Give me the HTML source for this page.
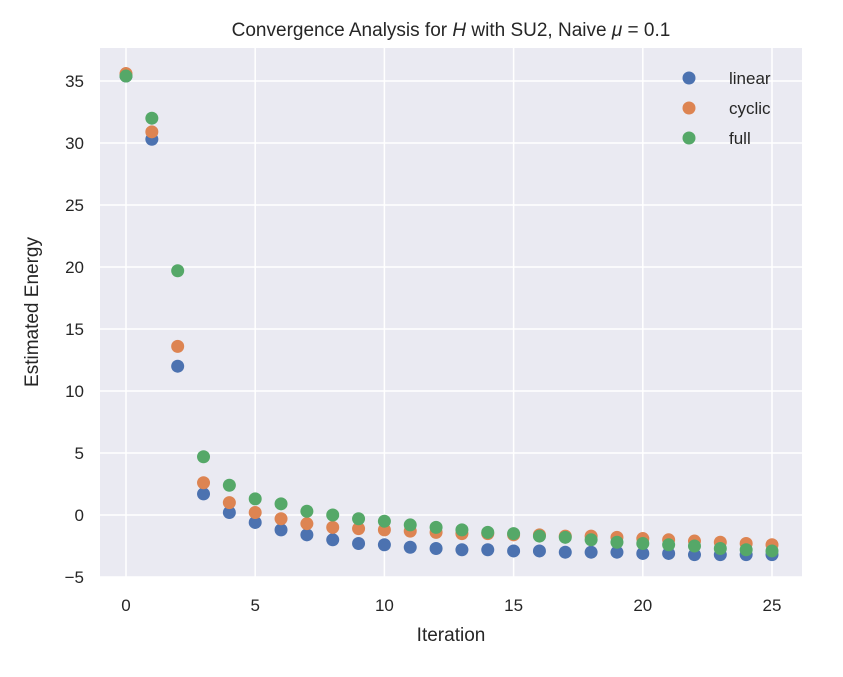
<!DOCTYPE html>
<html><head><meta charset="utf-8"><style>
body{margin:0;background:#fff;font-family:"Liberation Sans","DejaVu Sans",sans-serif}
</style></head><body>
<svg id="chart" width="843" height="672" xmlns="http://www.w3.org/2000/svg" font-family="Liberation Sans, DejaVu Sans, sans-serif">
<rect x="100" y="48" width="702" height="529" fill="#eaeaf2"/>
<g id="grid"></g>
<g id="xticks"></g>
<g id="yticks"></g>
<g id="marks"></g>
<text x="451" y="36" text-anchor="middle" font-size="19" fill="#262626">Convergence Analysis for <tspan font-style="italic">H</tspan> with SU2, Naive <tspan font-style="italic">μ</tspan> = 0.1</text>
<text x="451" y="641" text-anchor="middle" font-size="19" fill="#262626">Iteration</text>
<text transform="translate(38,312) rotate(-90)" text-anchor="middle" font-size="19" fill="#262626">Estimated Energy</text>
<g id="legend"></g>
</svg>
<script>
const iterations=[0,1,2,3,4,5,6,7,8,9,10,11,12,13,14,15,16,17,18,19,20,21,22,23,24,25];
const linearVals=[35.4,30.3,12.0,1.7,0.2,-0.6,-1.2,-1.6,-2.0,-2.3,-2.4,-2.6,-2.7,-2.8,-2.8,-2.9,-2.9,-3.0,-3.0,-3.0,-3.1,-3.1,-3.2,-3.2,-3.2,-3.2];
const cyclicVals=[35.6,30.9,13.6,2.6,1.0,0.2,-0.3,-0.7,-1.0,-1.1,-1.2,-1.3,-1.4,-1.5,-1.5,-1.6,-1.6,-1.7,-1.7,-1.8,-1.9,-2.0,-2.1,-2.2,-2.3,-2.4];
const fullVals=[35.4,32.0,19.7,4.7,2.4,1.3,0.9,0.3,0.0,-0.3,-0.5,-0.8,-1.0,-1.2,-1.4,-1.5,-1.7,-1.8,-2.0,-2.2,-2.3,-2.4,-2.5,-2.7,-2.8,-2.9];
const xTicks=[0,5,10,15,20,25];
const yTicks=[-5,0,5,10,15,20,25,30,35];
const seriesNames=["linear","cyclic","full"];
const seriesColors=["#4c72b0","#dd8452","#55a868"];
const NS="http://www.w3.org/2000/svg";
const xs=v=>126+v*25.84;
const ys=v=>515-v*12.4;
function mk(tag,attrs,parent){const e=document.createElementNS(NS,tag);for(const k in attrs)e.setAttribute(k,attrs[k]);document.getElementById(parent).appendChild(e);return e;}
xTicks.forEach(t=>{
 const l=mk('line',{x1:xs(t),x2:xs(t),y1:48,y2:577,stroke:'#fff','stroke-width':1.5},'grid');
 
 
 const tx=mk('text',{x:xs(t),y:611,'text-anchor':'middle','font-size':17,fill:'#262626'},'xticks');
 tx.textContent=t;
 
 
});
yTicks.forEach(t=>{
 const l=mk('line',{x1:100,x2:802,y1:ys(t),y2:ys(t),stroke:'#fff','stroke-width':1.5},'grid');
 
 
 const tx=mk('text',{x:84,y:ys(t)+6,'text-anchor':'end','font-size':17,fill:'#262626'},'yticks');
 tx.textContent=t<0?'\u2212'+(-t):t;
 
 
});
[linearVals,cyclicVals,fullVals].forEach((vals,si)=>{
 vals.forEach((v,i)=>{
  const c=mk('circle',{cx:xs(iterations[i]),cy:ys(v),r:6.5,fill:seriesColors[si]},'marks');
  
  
 });
});
seriesNames.forEach((n,i)=>{
 const y=78+i*30;
 const c=mk('circle',{cx:689,cy:y,r:6.5,fill:seriesColors[i]},'legend');
 
 
 const t=mk('text',{x:729,y:y+6,'font-size':17,fill:'#262626'},'legend');
 t.textContent=n;
 
 
});
</script>
</body></html>
